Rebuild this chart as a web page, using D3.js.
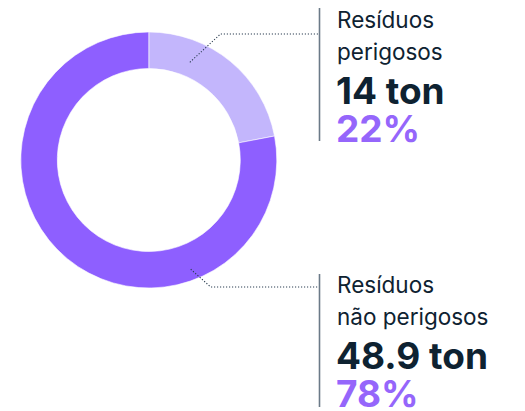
<!DOCTYPE html>
<html>
<head>
<meta charset="utf-8">
<script src="https://cdn.jsdelivr.net/npm/d3@7"></script>
<style>
  html, body { margin: 0; padding: 0; background: #fff; }
  svg { display: block; }
  text { font-family: Inter, "Noto Sans", sans-serif; }
</style>
</head>
<body>
<svg id="chart" width="525" height="411"></svg>
<script>
// Waste breakdown
const categories = ["Resíduos perigosos", "Resíduos não perigosos"];
const labelLines = [["Resíduos", "perigosos"], ["Resíduos", "não perigosos"]];
const tonnes = [14, 48.9];
const shares = [22, 78];

const colors = ["#c3b6fc", "#8e5fff"];
const ink = "#0e2231";
const accent = "#9566fb";

const svg = d3.select("#chart");
const cx = 148.8, cy = 160, rOuter = 128, rInner = 91.5;

const pie = d3.pie().sort(null).value(d => d)(shares);
const arc = d3.arc().innerRadius(rInner).outerRadius(rOuter);

const ring = svg.append("g").attr("transform", `translate(${cx},${cy})`);
ring.selectAll("path")
  .data(pie)
  .join("path")
  .attr("d", arc)
  .attr("fill", (d, i) => colors[i])
  .attr("stroke", "#fff")
  .attr("stroke-width", 0.6);

// label blocks: anchor on ring (angle in degrees, radius), elbow, block position
const blocks = [
  { anchor: [22.8, 106], elbowX: 220.5, lineY: 34, top: 8, bottom: 141, base: 28 },
  { anchor: [159, 117], elbowX: 210.7, lineY: 287, top: 274, bottom: 407, base: 293 }
];
const ruleX = 319.5, textX = 337;

blocks.forEach((b, i) => {
  const a = b.anchor[0] * Math.PI / 180;
  const ax = cx + b.anchor[1] * Math.sin(a);
  const ay = cy - b.anchor[1] * Math.cos(a);

  svg.append("polyline")
    .attr("points", `${ax},${ay} ${b.elbowX},${b.lineY} ${ruleX},${b.lineY}`)
    .attr("fill", "none")
    .attr("stroke", "#2c3f52")
    .attr("stroke-width", 1.1)
    .attr("stroke-dasharray", "1.2,1.8");

  svg.append("line")
    .attr("x1", ruleX).attr("x2", ruleX)
    .attr("y1", b.top).attr("y2", b.bottom)
    .attr("stroke", "#6b7a88")
    .attr("stroke-width", 1.6);

  const g = svg.append("g");
  labelLines[i].forEach((t, k) => {
    g.append("text")
      .attr("x", textX).attr("y", b.base + k * 31.5)
      .attr("font-size", 22.5)
      .attr("fill", ink)
      .text(t);
  });
  g.append("text")
    .attr("x", textX - 1).attr("y", b.base + 75.5)
    .attr("font-size", 37)
    .attr("font-weight", 700)
    .attr("fill", ink)
    .text(`${tonnes[i]} ton`);
  g.append("text")
    .attr("x", textX - 1).attr("y", b.base + 114)
    .attr("font-size", 37)
    .attr("font-weight", 700)
    .attr("fill", accent)
    .text(`${shares[i]}%`);
});
</script>
</body>
</html>
